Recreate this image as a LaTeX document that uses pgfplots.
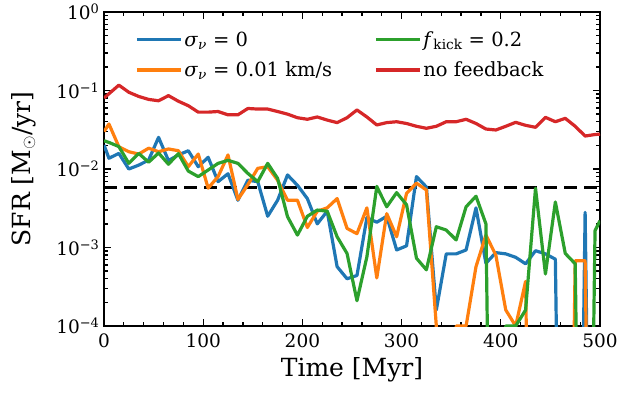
\documentclass[border=0pt]{standalone}
\usepackage{fontspec}
\setmainfont{DejaVu Serif}
\usepackage{pgfplots}
\pgfplotsset{compat=1.18}
\definecolor{tabblue}{HTML}{1F77B4}
\definecolor{taborange}{HTML}{FF7F0E}
\definecolor{tabgreen}{HTML}{2CA02C}
\definecolor{tabred}{HTML}{D62728}
\begin{document}
\begin{tikzpicture}
\path[use as bounding box] (-104pt,-71pt) rectangle (516pt,326pt);
\begin{axis}[
  at={(0pt,0pt)}, anchor=south west,
  scale only axis, width=496pt, height=314pt,
  xmin=0, xmax=500, ymode=log, ymin=1e-4, ymax=1,
  xtick={0,100,200,300,400,500},
  minor x tick num=4,
  ytick={1e-4,1e-3,1e-2,1e-1,1},
  yticklabels={10\textsuperscript{−4},10\textsuperscript{−3},10\textsuperscript{−2},10\textsuperscript{−1},10\textsuperscript{0}},
  /pgf/number format/assume math mode=true,
  tick align=inside, xtick pos=both, ytick pos=both,
  major tick length=7pt, minor tick length=4pt,
  tick style={line width=1.3pt, black},
  axis line style={line width=2pt},
  ticklabel style={font=\fontsize{18.5}{20}\selectfont},
  xticklabel style={yshift=-4pt},
  yticklabel style={xshift=-1pt},
  xlabel={Time [Myr]},
  ylabel={SFR [M$_\odot$/yr]},
  label style={font=\fontsize{25}{28}\selectfont},
  xlabel style={at={(axis description cs:0.5,-0.162)}, anchor=base},
  ylabel style={at={(axis description cs:-0.149,0.5)}, anchor=base, rotate=0},
  legend columns=2, transpose legend,
  legend cell align=left,
  legend image code/.code={\draw[#1] (0pt,0pt) -- (44pt,0pt);},
  legend style={draw=none, fill=none, at={(axis description cs:0.0625,0.945)}, anchor=north west,
    font=\fontsize{19.5}{24}\selectfont, inner sep=0pt, row sep=10pt,
    /tikz/every even column/.append style={column sep=40pt}},
  every axis plot/.append style={line width=3.2pt, line join=round},
]
\addplot[black, dash pattern=on 13pt off 7pt, line width=3.3pt, forget plot] coordinates {(0,0.0058) (500,0.0058)};
\addplot[tabblue] coordinates {
(0,0.0202) (5,0.0137) (15,0.0158) (25,0.0100) (35,0.0112) (45,0.0130) (55,0.0253) (65,0.0128) (75,0.0151) (85,0.0171)
(95,0.0107) (105,0.0141) (115,0.0069) (125,0.0087) (135,0.0040) (145,0.0072) (155,0.0069) (165,0.0025) (175,0.0040) (185,0.0084)
(195,0.0062) (205,0.0042) (215,0.0020) (225,0.0029) (235,0.00057) (245,0.00040) (255,0.00044) (265,0.0024) (275,0.0021) (285,0.0025)
(295,0.00093) (305,0.00105) (315,0.0080) (325,0.0059) (335,0.00016) (345,0.00083) (355,0.00083) (365,0.00093) (375,0.0032) (385,0.00063)
(395,0.00086) (405,0.00083) (415,0.00075) (425,0.00062) (435,0.00091) (445,0.00083) (455,0.00071) (465,1e-12) (475,1e-12) (485,0.0028)
(495,1e-12) (500,1e-12)};
\addlegendentry{\textit{σ}\textsubscript{\textit{ν}} = 0}
\addplot[taborange] coordinates {
(0,0.030) (5,0.0374) (15,0.0192) (25,0.0166) (35,0.0155) (45,0.0184) (55,0.0166) (65,0.0180) (75,0.0171) (85,0.0107)
(95,0.0155) (105,0.0057) (115,0.0080) (125,0.0151) (135,0.0041) (145,0.0063) (155,0.0102) (165,0.0107) (175,0.0072) (185,0.0040)
(195,0.0040) (205,0.0018) (215,0.0029) (225,0.0032) (235,0.0042) (245,0.00175) (255,0.0015) (265,0.0032) (275,0.00041) (285,0.0027)
(295,0.00137) (305,0.0049) (315,0.0066) (325,0.0054) (335,0.0001) (345,1e-12) (355,0.0001) (365,0.0001) (375,0.00057) (385,0.00144)
(395,0.0008) (405,0.00016) (415,0.0001) (425,0.00037) (435,1e-12) (445,1e-12) (455,1e-12) (465,1e-12) (475,0.00068) (485,0.00068)
(495,1e-12) (500,1e-12)};
\addlegendentry{\textit{σ}\textsubscript{\textit{ν}} = 0.01 km/s}
\addplot[tabgreen] coordinates {
(0,0.0229) (5,0.0218) (15,0.0193) (25,0.0118) (35,0.0158) (45,0.0122) (55,0.0160) (65,0.0115) (75,0.0157) (85,0.0094)
(95,0.0080) (105,0.0097) (115,0.0118) (125,0.0129) (135,0.0118) (145,0.0088) (155,0.0069) (165,0.0118) (175,0.0076) (185,0.00247)
(195,0.00144) (205,0.0025) (215,0.0030) (225,0.0029) (235,0.00137) (245,0.00084) (255,0.00021) (265,0.00076) (275,0.0060) (285,0.0033)
(295,0.0050) (305,0.0035) (315,0.00073) (325,0.00052) (335,0.00184) (345,0.00167) (355,0.00125) (365,0.0033) (375,0.0045) (385,0.0020)
(395,1e-12) (405,0.0001) (415,0.0001) (425,0.00016) (435,0.0057) (445,0.00046) (455,0.0038) (465,0.00084) (475,0.00062) (485,1e-12)
(495,0.00164) (500,0.0022)};
\addlegendentry{\textit{f}\textsubscript{kick} = 0.2}
\addplot[tabred] coordinates {
(0,0.080) (5,0.091) (15,0.117) (25,0.095) (35,0.084) (45,0.077) (55,0.074) (65,0.086) (75,0.073) (85,0.064)
(95,0.053) (105,0.053) (115,0.054) (125,0.049) (135,0.049) (145,0.059) (155,0.058) (165,0.058) (175,0.054) (185,0.050)
(195,0.045) (205,0.043) (215,0.046) (225,0.042) (235,0.039) (245,0.045) (255,0.0565) (265,0.046) (275,0.0364) (285,0.039)
(295,0.040) (305,0.038) (315,0.035) (325,0.033) (335,0.035) (345,0.040) (355,0.040) (365,0.043) (375,0.038) (385,0.0323)
(395,0.0314) (405,0.035) (415,0.0393) (425,0.036) (435,0.034) (445,0.0455) (455,0.040) (465,0.0442) (475,0.035) (485,0.0263)
(495,0.0275) (500,0.0278)};
\addlegendentry{no feedback}
\end{axis}
\end{tikzpicture}
\end{document}
